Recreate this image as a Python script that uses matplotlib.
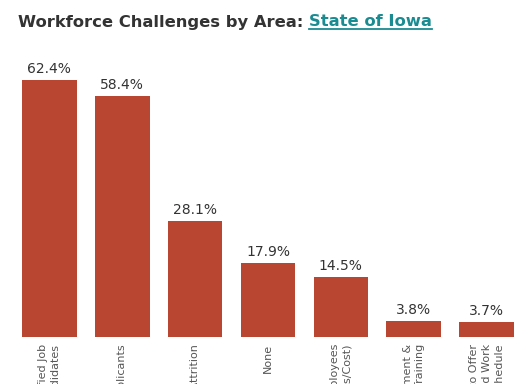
import matplotlib
matplotlib.use("Agg")
import matplotlib.pyplot as plt

# Данные
categories = [
    "Lack of Qualified Job\nCandidates",
    "Lack of Applicants",
    "Employee Attrition",
    "None",
    "Retaining Employees\n(Wages/Benefits/Cost)",
    "Lack of Advancement &\nTraining",
    "Inability to Offer\nFlexible/Hybrid Work\nSchedule",
]
values = [62.4, 58.4, 28.1, 17.9, 14.5, 3.8, 3.7]

title_main = "Workforce Challenges by Area: "
title_link = "State of Iowa"

BAR_COLOR = "#b84630"
TEXT_COLOR = "#333333"
LINK_COLOR = "#1b8b92"

plt.rcParams["font.family"] = "DejaVu Sans"

fig = plt.figure(figsize=(5.28, 3.84), dpi=100)
ax = fig.add_axes([13 / 528, 47 / 384, 510 / 528, 277 / 384])

x = range(len(values))
bars = ax.bar(x, values, width=0.75, color=BAR_COLOR)
ax.set_xlim(-0.5, len(values) - 0.5)
ax.set_ylim(0, 67.2)

# Подписи значений
for rect, v in zip(bars, values):
    ax.annotate(f"{v:.1f}%", (rect.get_x() + rect.get_width() / 2, v),
                xytext=(0, 3), textcoords="offset points",
                ha="center", va="bottom", fontsize=10, color=TEXT_COLOR)

ax.set_xticks(list(x))
ax.set_xticklabels(categories, rotation=90, ha="center", va="top",
                   multialignment="right", fontsize=8, color="#555555",
                   linespacing=1.3)
ax.tick_params(axis="x", length=0, pad=5)
ax.set_yticks([])
for s in ax.spines.values():
    s.set_visible(False)

# Заголовок из двух частей, вторая как ссылка
t1 = fig.text(18 / 528, 1 - 22 / 384, title_main, fontsize=11.8, fontweight="bold",
              color=TEXT_COLOR, ha="left", va="center")
fig.canvas.draw()
renderer = fig.canvas.get_renderer()
bb1 = t1.get_window_extent(renderer)
t2 = fig.text(bb1.x1 / fig.bbox.width, 1 - 22 / 384, title_link, fontsize=11.8,
              fontweight="bold", color=LINK_COLOR, ha="left", va="center")
bb2 = t2.get_window_extent(renderer)
uy = (bb2.y0 + 1) / fig.bbox.height
fig.add_artist(plt.Line2D([bb2.x0 / fig.bbox.width, bb2.x1 / fig.bbox.width], [uy, uy],
                          color=LINK_COLOR, linewidth=1.3))

fig.savefig("out.png", dpi=100)
